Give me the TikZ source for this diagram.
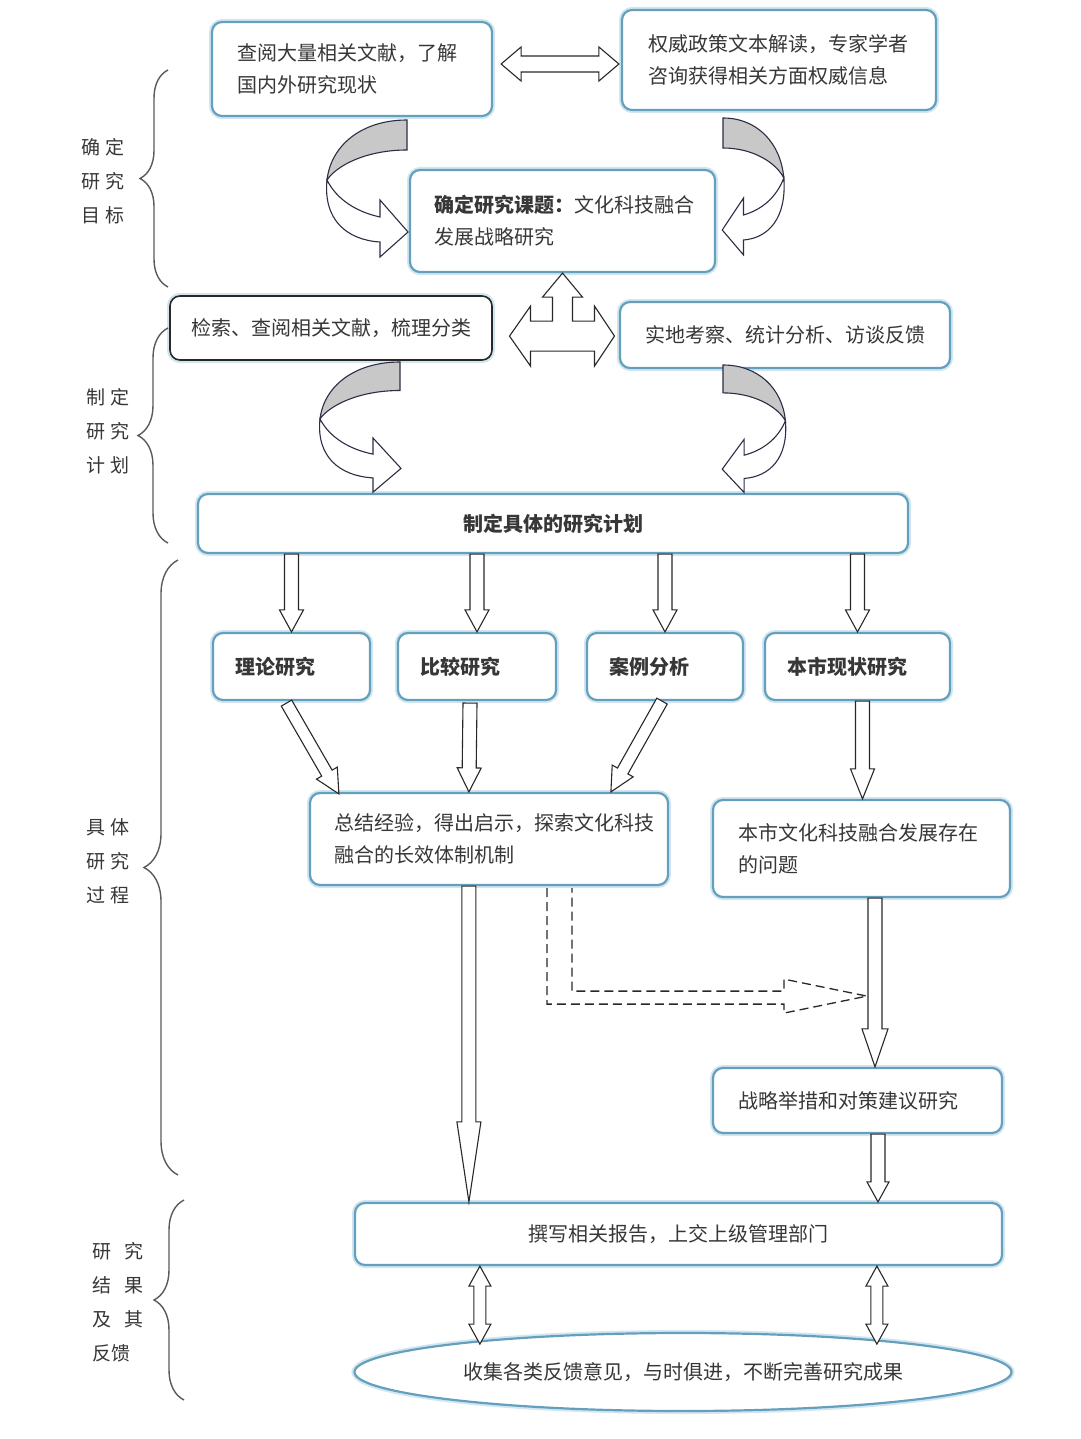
\documentclass[tikz,border=0pt]{standalone}
\usepackage{fontspec}
\newfontfamily\cjk{Noto Sans CJK SC}
\usetikzlibrary{calc,shapes.geometric,decorations.pathreplacing}
\definecolor{boxblue}{RGB}{100,160,190}
\definecolor{boxglow}{RGB}{210,230,240}
\definecolor{txt}{RGB}{55,55,55}
\definecolor{lineblk}{RGB}{40,40,40}
\definecolor{curveline}{RGB}{45,45,70}
\definecolor{shade}{RGB}{200,200,200}
\definecolor{bracegray}{RGB}{90,90,90}

% single block arrow: from, to, shaft half width, head half width, head length
\newcommand{\blockarrow}[5]{%
  \coordinate (ba-s) at (#1);
  \coordinate (ba-e) at (#2);
  \coordinate (ba-b) at ($(ba-e)!#5pt!(ba-s)$);
  \draw[blockline] ($(ba-s)!#3pt!90:(ba-e)$) -- ($(ba-b)!#3pt!90:(ba-e)$)
    -- ($(ba-b)!#4pt!90:(ba-e)$) -- (ba-e) -- ($(ba-b)!#4pt!-90:(ba-e)$)
    -- ($(ba-b)!#3pt!-90:(ba-e)$) -- ($(ba-s)!#3pt!-90:(ba-e)$) -- cycle;
}
% double block arrow
\newcommand{\dblarrow}[5]{%
  \coordinate (da-s) at (#1);
  \coordinate (da-e) at (#2);
  \coordinate (da-b1) at ($(da-s)!#5pt!(da-e)$);
  \coordinate (da-b2) at ($(da-e)!#5pt!(da-s)$);
  \draw[blockline] (da-s) -- ($(da-b1)!#4pt!90:(da-e)$) -- ($(da-b1)!#3pt!90:(da-e)$)
    -- ($(da-b2)!#3pt!90:(da-e)$) -- ($(da-b2)!#4pt!90:(da-e)$) -- (da-e)
    -- ($(da-b2)!#4pt!-90:(da-e)$) -- ($(da-b2)!#3pt!-90:(da-e)$)
    -- ($(da-b1)!#3pt!-90:(da-e)$) -- ($(da-b1)!#4pt!-90:(da-e)$) -- cycle;
}

\tikzset{
  blockline/.style={draw=lineblk, fill=white, line width=1.1pt, line join=miter},
  curvline/.style={draw=curveline, fill=white, line width=1.1pt, line join=miter},
  box/.style={draw=boxblue, line width=2.2pt, rounded corners=10pt, fill=white,
    preaction={draw=boxglow, line width=6pt}, text=txt, inner ysep=0pt,
    inner xsep=25pt},
  lbox/.style={box, align=left},
  cbox/.style={box, align=center},
  lbl/.style={text=txt, align=left, inner sep=0pt, font=\cjk\fontsize{19pt}{34pt}\selectfont},
  bracestyle/.style={draw=bracegray, line width=1.4pt, decorate},
  curvA/.pic={
    \draw[curvline, fill=shade] (0,0) .. controls (-45,0) and (-76,25) .. (-80,60)
      .. controls (-70,45) and (-40,30) .. (0,30) -- cycle;
    \draw[curvline] (-80,60) .. controls (-84,100) and (-60,120) .. (-27,122)
      -- (-27,137) -- (1,112) -- (-27,80) -- (-27,97)
      .. controls (-50,92) and (-70,80) .. (-80,60) -- cycle;
  },
}

\begin{document}
\begin{tikzpicture}[x=1pt, y=-1pt, font=\cjk\fontsize{20pt}{32pt}\selectfont]
\fill[white] (0,0) rectangle (1080,1439);
\useasboundingbox (0,0) rectangle (1080,1439);

% ---------- boxes ----------
\node[lbox, minimum width=280pt, minimum height=94pt, text width=230pt, inner xsep=25pt] (b1) at (352,69)
  {查阅大量相关文献，了解\\国内外研究现状};
\node[lbox, minimum width=314pt, minimum height=100pt, text width=262pt, inner xsep=26pt] (b2) at (779,60)
  {权威政策文本解读，专家学者\\咨询获得相关方面权威信息};
\node[lbox, minimum width=305pt, minimum height=102pt, text width=257pt, inner xsep=24pt] (b3) at (562.5,221)
  {{\bfseries 确定研究课题：}文化科技融合\\发展战略研究};
\node[cbox, draw=lineblk, line width=1.6pt, preaction={draw=none}, minimum width=322pt, minimum height=64pt, inner xsep=0pt] (b4) at (331,328)
  {检索、查阅相关文献，梳理分类};
\node[cbox, minimum width=330pt, minimum height=66pt, inner xsep=0pt] (b5) at (785,335)
  {实地考察、统计分析、访谈反馈};
\node[cbox, minimum width=710pt, minimum height=59pt, inner xsep=0pt] (b6) at (553,523.5)
  {\bfseries 制定具体的研究计划};

\node[lbox, minimum width=157pt, minimum height=67pt, text width=113pt, inner xsep=22pt] (b7) at (291.5,666.5)
  {\bfseries 理论研究\\[-4pt]};
\node[lbox, minimum width=158pt, minimum height=67pt, text width=114pt, inner xsep=22pt] (b8) at (477,666.5)
  {\bfseries 比较研究\\[-4pt]};
\node[lbox, minimum width=156pt, minimum height=67pt, text width=112pt, inner xsep=22pt] (b9) at (665,666.5)
  {\bfseries 案例分析\\[-4pt]};
\node[lbox, minimum width=185pt, minimum height=67pt, text width=141pt, inner xsep=22pt] (b10) at (857.5,666.5)
  {\bfseries 本市现状研究\\[-4pt]};

\node[lbox, minimum width=358pt, minimum height=92pt, text width=310pt, inner xsep=24pt] (b11) at (489,839)
  {总结经验，得出启示，探索文化科技\\融合的长效体制机制};
\node[lbox, minimum width=297pt, minimum height=97pt, text width=247pt, inner xsep=25pt] (b12) at (861.5,848.5)
  {本市文化科技融合发展存在\\的问题};
\node[lbox, minimum width=289pt, minimum height=65pt, text width=239pt, inner xsep=25pt] (b13) at (857.5,1100.5)
  {战略举措和对策建议研究};
\node[cbox, minimum width=647pt, minimum height=62pt, inner xsep=0pt] (b14) at (678.5,1234)
  {撰写相关报告，上交上级管理部门};
\node[ellipse, draw=boxblue, line width=2.2pt, fill=white, preaction={draw=boxglow, line width=6pt},
  text=txt, minimum width=657pt, minimum height=78pt, inner sep=0pt] (e15) at (683,1372)
  {收集各类反馈意见，与时俱进，不断完善研究成果};

% ---------- side labels and braces ----------
\node[lbl] (l1) at (103,181) {确\hspace{6pt}定\\研\hspace{6pt}究\\目\hspace{6pt}标};
\node[lbl] (l2) at (108,431) {制\hspace{6pt}定\\研\hspace{6pt}究\\计\hspace{6pt}划};
\node[lbl] (l3) at (108,861) {具\hspace{6pt}体\\研\hspace{6pt}究\\过\hspace{6pt}程};
\node[lbl] (l4) at (118,1302) {研\hspace{13pt}究\\结\hspace{13pt}果\\及\hspace{13pt}其\\反馈};

\draw[bracestyle, decoration={brace, amplitude=28pt}] (168,287) -- (168,70);
\draw[bracestyle, decoration={brace, amplitude=30pt}] (168,543) -- (168,328);
\draw[bracestyle, decoration={brace, amplitude=34pt}] (178,1175) -- (178,560);
\draw[bracestyle, decoration={brace, amplitude=30pt}] (184,1400) -- (184,1200);

% ---------- curved arrows ----------
\pic at (407,120) {curvA};
\pic[xscale=-0.76] at (723,118) {curvA};
\pic[yscale=0.95] at (400,362) {curvA};
\pic[xscale=-0.78, yscale=0.93] at (723,365) {curvA};

% ---------- straight block arrows ----------
\dblarrow{$(b1.east)+(8,-5)$}{$(b2.west)+(-2,4)$}{8}{17}{20}

% three-way arrow
\draw[blockline, shift={(b3.south)}] (0,0) -- (20,24) -- (10,24) -- (10,48) -- (32,48)
  -- (32,33) -- (52,63) -- (32,93) -- (32,78) -- (-32,78) -- (-32,93) -- (-53,63)
  -- (-32,33) -- (-32,48) -- (-10,48) -- (-10,24) -- (-20,24) -- cycle;

\blockarrow{b7.north |- b6.south}{b7.north}{7}{12}{22}
\blockarrow{b8.north |- b6.south}{b8.north}{7}{12}{22}
\blockarrow{b9.north |- b6.south}{b9.north}{7}{12}{22}
\blockarrow{b10.north |- b6.south}{b10.north}{7}{12}{22}

\blockarrow{$(b7.south)+(-5,2)$}{$(b11.north west)+(30,2)$}{6}{12}{24}
\blockarrow{$(b8.south)+(-7,2)$}{$(b11.north west)+(160,0)$}{7}{12}{24}
\blockarrow{$(b9.south)+(-3,0)$}{$(b11.north west)+(302,0)$}{6}{12}{24}

\coordinate (s10) at ($(b10.south)+(5,0)$);
\coordinate (s11) at ($(b11.south west)+(160,0)$);
\coordinate (s12) at ($(b12.south)+(13.5,0)$);
\coordinate (s13) at ($(b13.south)+(20.5,0)$);
\coordinate (s14a) at ($(b14.south west)+(126,0)$);
\coordinate (s14b) at ($(b14.south west)+(523,0)$);

\blockarrow{s10}{s10 |- b12.north}{7}{12}{30}
\blockarrow{s11}{s11 |- b14.north}{7}{12}{80}
\blockarrow{s12}{s12 |- b13.north}{7}{13}{38}
\blockarrow{s13}{s13 |- b14.north}{7}{11}{20}

\dblarrow{s14a}{$(s14a)+(0,78)$}{6}{11}{20}
\dblarrow{s14b}{$(s14b)+(0,78)$}{6}{11}{20}

% dashed bent arrow
\draw[draw=lineblk, line width=1.3pt, dash pattern=on 9pt off 5pt]
  ($(b11.south west)+(238,2)$) -- ++(0,116) -- ++(237,0) -- ++(0,9) -- ++(83,-17)
  -- ++(-83,-17) -- ++(0,12) -- ++(-212,0) -- ++(0,-103);
\end{tikzpicture}
\end{document}
